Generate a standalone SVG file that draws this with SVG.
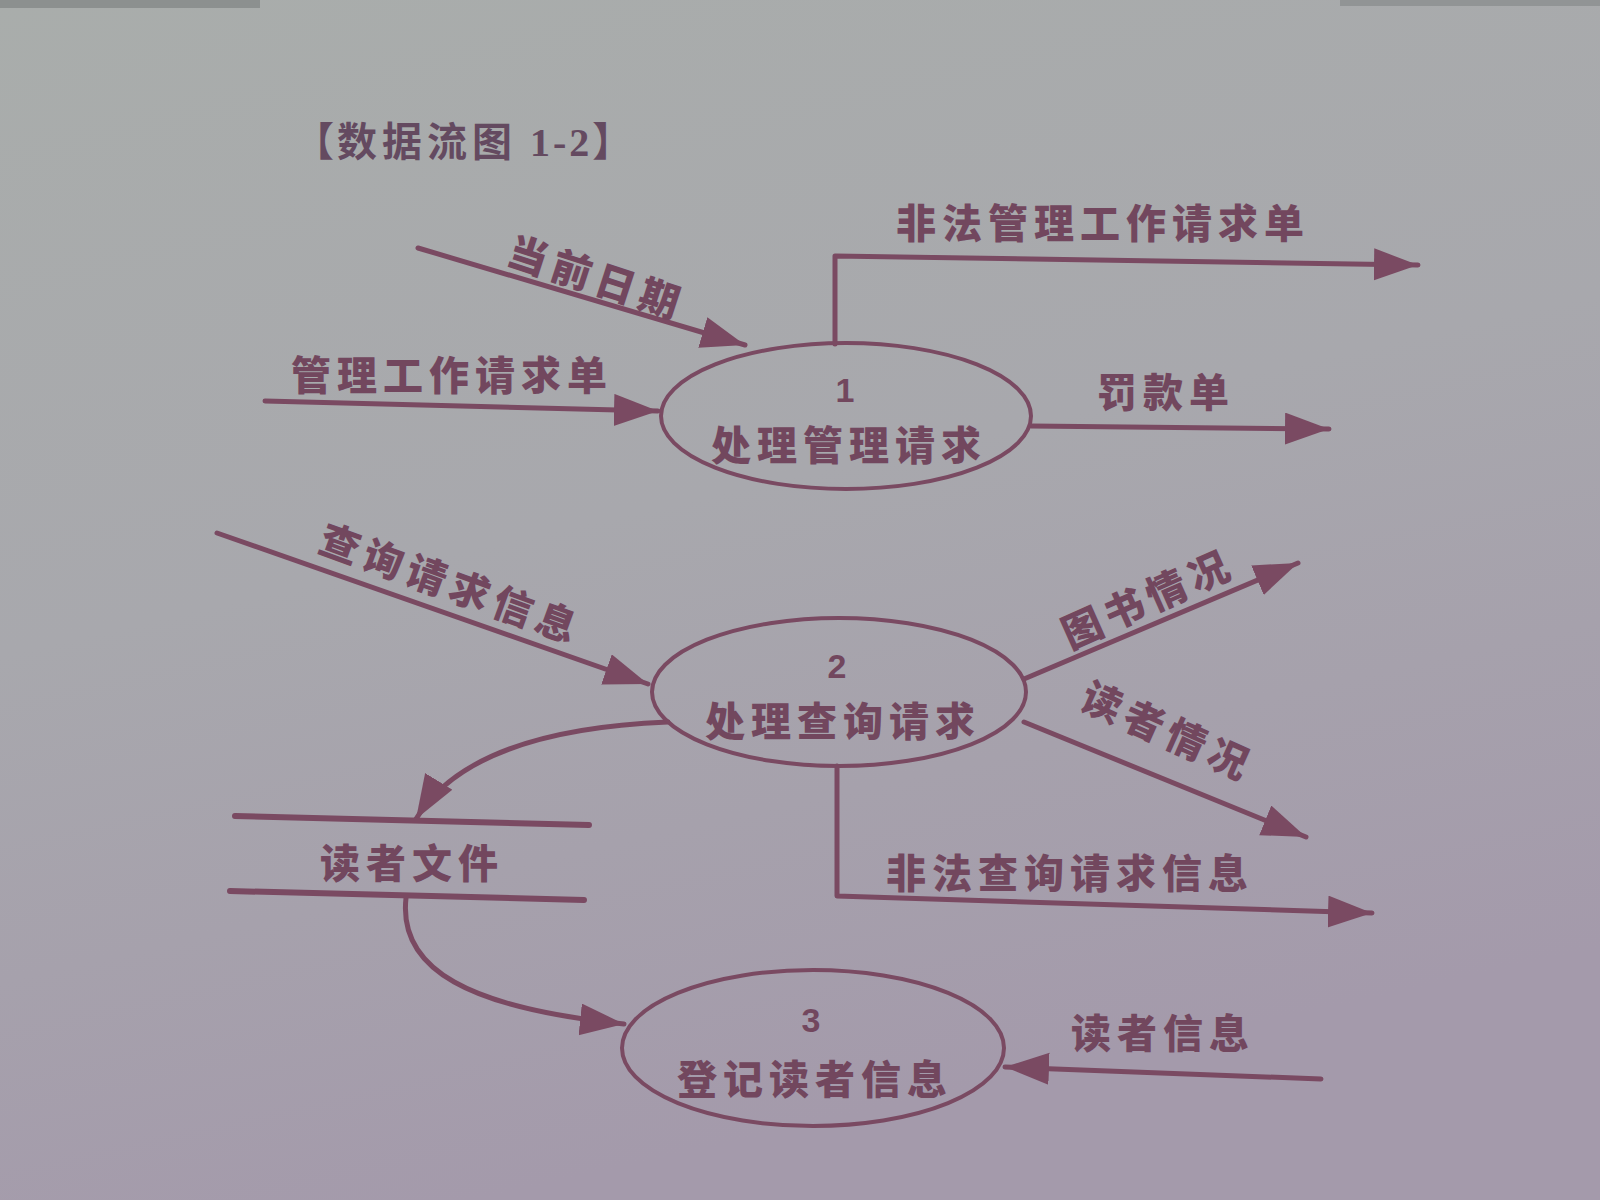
<svg xmlns="http://www.w3.org/2000/svg" width="1600" height="1200" viewBox="0 0 1600 1200">
  <defs>
    <linearGradient id="paper" x1="0" y1="0" x2="0.3" y2="1">
      <stop offset="0" stop-color="#a9adab"/>
      <stop offset="0.5" stop-color="#a8a8ad"/>
      <stop offset="1" stop-color="#a49aab"/>
    </linearGradient>
    <marker id="arrow" markerUnits="userSpaceOnUse" markerWidth="48" markerHeight="36" refX="44" refY="16" orient="auto">
      <path d="M0,0 L44,16 L0,32 Z" fill="#7a4a62"/>
    </marker>
    <style>
      .flow { fill: none; stroke: #7a4a62; stroke-width: 5; stroke-linecap: round; stroke-linejoin: round; }
      .flow-arrow { marker-end: url(#arrow); }
      .proc { fill: none; stroke: #7a4a62; stroke-width: 4; }
      .store { stroke: #7a4a62; stroke-width: 6; stroke-linecap: round; }
      .lbl { font-family: "Noto Sans CJK SC", "Noto Sans", sans-serif; font-weight: 900; font-size: 40px; fill: #72475e; letter-spacing: 6px; text-anchor: middle; }
      .num { font-family: "Liberation Sans", "Noto Sans", sans-serif; font-weight: 700; font-size: 34px; fill: #72475e; text-anchor: middle; }
      .title { font-family: "Liberation Serif", "Noto Sans CJK SC", serif; font-weight: 700; font-size: 40px; fill: #644a60; letter-spacing: 3px; }
    </style>
  </defs>

  <!-- paper -->
  <rect x="0" y="0" width="1600" height="1200" fill="url(#paper)"/>
  <rect x="0" y="0" width="260" height="8" fill="#6f7474" opacity="0.5"/>
  <rect x="1340" y="0" width="260" height="6" fill="#6f7474" opacity="0.4"/>

  <!-- heading -->
  <text class="title" x="294" y="156">【<tspan font-family="Noto Sans CJK SC, sans-serif" letter-spacing="5">数据流图</tspan> 1-2】</text>

  <!-- data flows -->
  <g id="connectors">
    <!-- into process 1 -->
    <line class="flow flow-arrow" x1="418" y1="248" x2="745" y2="345"/>
    <line class="flow flow-arrow" x1="265" y1="401" x2="658" y2="411"/>
    <!-- out of process 1 -->
    <polyline class="flow flow-arrow" points="835,344 835,256 1418,265"/>
    <line class="flow flow-arrow" x1="1031" y1="426" x2="1329" y2="429"/>
    <!-- into process 2 -->
    <line class="flow flow-arrow" x1="217" y1="533" x2="648" y2="684"/>
    <!-- out of process 2 -->
    <line class="flow flow-arrow" x1="1024" y1="679" x2="1298" y2="563"/>
    <line class="flow flow-arrow" x1="1024" y1="722" x2="1306" y2="837"/>
    <polyline class="flow flow-arrow" points="837,766 837,896 1372,913"/>
    <path class="flow flow-arrow" d="M668,722 Q470,730 416,819"/>
    <!-- store to process 3 -->
    <path class="flow flow-arrow" d="M406,898 C398,970 470,1008 624,1024"/>
    <!-- into process 3 -->
    <line class="flow flow-arrow" x1="1321" y1="1079" x2="1005" y2="1067"/>
  </g>

  <!-- flow labels -->
  <g id="flow-labels">
    <text class="lbl" transform="translate(592,292) rotate(18)">当前日期</text>
    <text class="lbl" x="452" y="390">管理工作请求单</text>
    <text class="lbl" x="1103" y="238">非法管理工作请求单</text>
    <text class="lbl" x="1166" y="407">罚款单</text>
    <text class="lbl" transform="translate(446,598) rotate(20)">查询请求信息</text>
    <text class="lbl" transform="translate(1154,612) rotate(-24)">图书情况</text>
    <text class="lbl" transform="translate(1162,745) rotate(24)">读者情况</text>
    <text class="lbl" x="1070" y="888">非法查询请求信息</text>
    <text class="lbl" x="1163" y="1048">读者信息</text>
  </g>

  <!-- process 1 -->
  <g id="process-1">
    <ellipse class="proc" cx="846" cy="416" rx="185" ry="73"/>
    <text class="num" x="845" y="402">1</text>
    <text class="lbl" x="849" y="460">处理管理请求</text>
  </g>

  <!-- process 2 -->
  <g id="process-2">
    <ellipse class="proc" cx="839" cy="692" rx="187" ry="74"/>
    <text class="num" x="837" y="678">2</text>
    <text class="lbl" x="843" y="736">处理查询请求</text>
  </g>

  <!-- data store -->
  <g id="store-readers">
    <line class="store" x1="235" y1="816" x2="589" y2="825"/>
    <line class="store" x1="230" y1="891" x2="584" y2="900"/>
    <text class="lbl" x="412" y="878">读者文件</text>
  </g>

  <!-- process 3 -->
  <g id="process-3">
    <ellipse class="proc" cx="813" cy="1048" rx="191" ry="78"/>
    <text class="num" x="811" y="1032">3</text>
    <text class="lbl" x="815" y="1094">登记读者信息</text>
  </g>
</svg>
